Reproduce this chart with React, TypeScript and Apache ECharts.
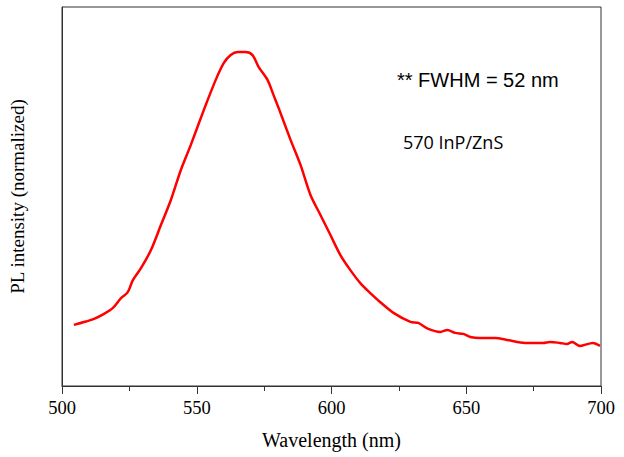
import React, { useEffect, useRef } from "react";
import * as echarts from "echarts";

const wavelength = [
  504.4, 508.9, 511.9, 515.6, 518.9, 521.9, 524.4, 526.3, 529.3, 533.0,
  536.7, 540.4, 544.1, 547.8, 552.6, 557.0, 560.0, 562.6, 565.2, 568.1,
  570.7, 573.0, 576.3, 578.5, 580.4, 584.8, 588.5, 592.2, 595.9, 599.6,
  603.3, 607.0, 610.7, 614.4, 618.1, 623.0, 629.3, 632.2, 635.9, 640.4,
  643.0, 645.9, 648.9, 651.5, 655.2, 660.7, 665.2, 668.9, 672.6, 678.5,
  681.1, 684.8, 687.4, 689.3, 692.2, 697.0, 699.6,
];
const intensity = [
  0.183, 0.193, 0.201, 0.216, 0.234, 0.263, 0.281, 0.317, 0.353, 0.407,
  0.482, 0.557, 0.647, 0.722, 0.826, 0.916, 0.967, 0.991, 1.0, 1.0,
  0.991, 0.955, 0.916, 0.871, 0.832, 0.737, 0.662, 0.572, 0.512, 0.452,
  0.392, 0.347, 0.308, 0.278, 0.251, 0.219, 0.192, 0.189, 0.171, 0.162,
  0.168, 0.159, 0.156, 0.147, 0.144, 0.144, 0.138, 0.132, 0.129, 0.129,
  0.132, 0.129, 0.126, 0.132, 0.12, 0.129, 0.12,
];
const xTicks = [500, 550, 600, 650, 700];
const annotations = ["** FWHM = 52 nm", "570 InP/ZnS"];

export default function App() {
  const ref = useRef<HTMLDivElement>(null);
  useEffect(() => {
    if (!ref.current) return;
    const chart = echarts.init(ref.current, null, { renderer: "svg" });
    const serif = "Liberation Serif";
    chart.setOption({
      animation: false,
      backgroundColor: "#fff",
      grid: {
        left: 61,
        right: 23,
        top: 7,
        bottom: 71,
        show: true,
        borderColor: "#333",
        borderWidth: 1,
      },
      xAxis: {
        type: "value",
        min: xTicks[0],
        max: xTicks[xTicks.length - 1],
        interval: 50,
        name: "Wavelength (nm)",
        nameLocation: "middle",
        nameGap: 44,
        nameTextStyle: { fontFamily: serif, fontSize: 20, color: "#000" },
        axisLine: { show: true, lineStyle: { color: "#333", width: 1 } },
        axisTick: { show: true, inside: false, length: 8, lineStyle: { color: "#333" } },
        minorTick: { show: true, splitNumber: 2, length: 5, lineStyle: { color: "#333" } },
        axisLabel: { fontFamily: serif, fontSize: 18.5, color: "#000", margin: 12 },
        splitLine: { show: false },
      },
      yAxis: {
        type: "value",
        min: 0,
        max: 1.135,
        name: "PL intensity (normalized)",
        nameLocation: "middle",
        nameGap: 35,
        nameTextStyle: { fontFamily: serif, fontSize: 19, color: "#000" },
        axisLine: { show: true, lineStyle: { color: "#333" } },
        axisTick: { show: false },
        axisLabel: { show: false },
        splitLine: { show: false },
      },
      graphic: [
        {
          type: "text",
          x: 397,
          y: 79.5,
          style: {
            text: annotations[0],
            fontFamily: "Liberation Sans",
            fontSize: 20,
            fill: "#000",
            verticalAlign: "middle",
            textVerticalAlign: "middle",
          },
        },
        {
          type: "text",
          x: 403,
          y: 141.5,
          style: {
            text: annotations[1],
            fontFamily: "Open Sans",
            fontSize: 18,
            fill: "#000",
            verticalAlign: "middle",
            textVerticalAlign: "middle",
          },
        },
      ],
      series: [
        {
          type: "line",
          data: wavelength.map((w, i) => [w, intensity[i]]),
          showSymbol: false,
          smooth: 0.3,
          lineStyle: { color: "#ff0000", width: 2.5 },
        },
      ],
    });
    return () => chart.dispose();
  }, []);
  return (
    <div
      ref={ref}
      style={{ position: "fixed", left: 0, top: 0, width: 624, height: 457 }}
    />
  );
}
